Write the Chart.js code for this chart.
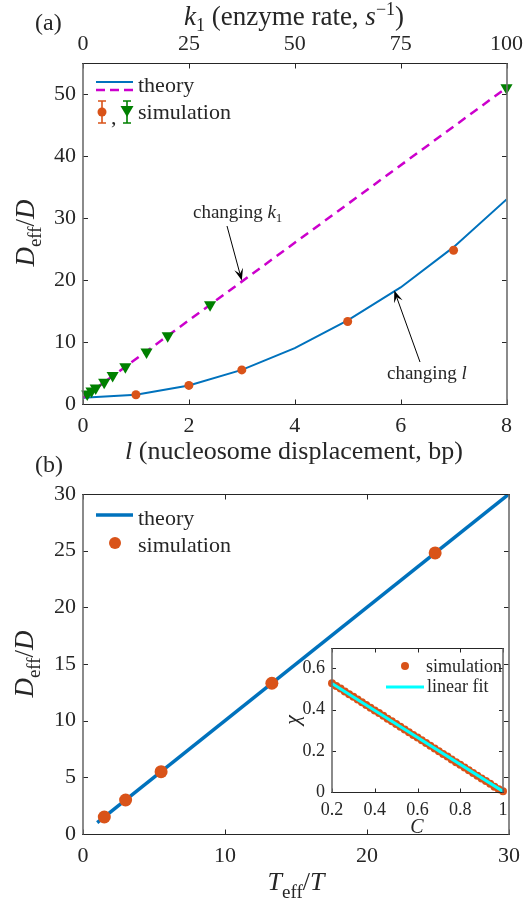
<!DOCTYPE html>
<html>
<head>
<meta charset="utf-8">
<script src="https://cdn.jsdelivr.net/npm/chart.js@4.4.1/dist/chart.umd.min.js"></script>
<style>
body{margin:0;background:#fff;width:529px;height:902px;position:relative;overflow:hidden}
canvas{position:absolute}
</style>
</head>
<body>
<canvas id="chartA" width="529" height="470" style="left:0;top:0"></canvas>
<canvas id="chartB" width="529" height="452" style="left:0;top:450px"></canvas>
<canvas id="inset" width="249" height="210" style="left:280px;top:630px"></canvas>
<script>
// panel (a): changing l (bottom axis) and changing k1 (top axis)
const lVals = [0, 1, 2, 3, 4, 5, 6, 7, 8];
const theoryL = [1, 1.5, 3, 5.5, 9, 13.5, 18.8, 25.3, 33];
const simL = [1, 2, 3, 5, 7];
const simLD = [1.5, 3, 5.5, 13.3, 24.8];
const k1Line = [0, 100];
const theoryK1 = [1, 51];
const simK1 = [1, 2, 3, 5, 7, 10, 15, 20, 30, 100];
const simK1D = [1.6, 2.1, 2.6, 3.5, 4.6, 6, 8.4, 11, 16, 51];

// panel (b)
const tRatio = [1, 30];
const theoryB = [1, 30];
const simT = [1.5, 3, 5.5, 13.3, 24.8];
const simB = [1.5, 3, 5.5, 13.3, 24.8];

// inset
const cVals = [0.20, 0.22, 0.24, 0.26, 0.28, 0.30, 0.32, 0.34, 0.36, 0.38, 0.40,
  0.42, 0.44, 0.46, 0.48, 0.50, 0.52, 0.54, 0.56, 0.58, 0.60,
  0.62, 0.64, 0.66, 0.68, 0.70, 0.72, 0.74, 0.76, 0.78, 0.80,
  0.82, 0.84, 0.86, 0.88, 0.90, 0.92, 0.94, 0.96, 0.98, 1.00];
const chiVals = [0.528, 0.515, 0.502, 0.488, 0.475, 0.462, 0.449, 0.436, 0.422, 0.409, 0.396,
  0.383, 0.370, 0.356, 0.343, 0.330, 0.317, 0.304, 0.290, 0.277, 0.264,
  0.251, 0.238, 0.224, 0.211, 0.198, 0.185, 0.172, 0.158, 0.145, 0.132,
  0.119, 0.106, 0.092, 0.079, 0.066, 0.053, 0.040, 0.026, 0.013, 0.004];
const fitC = [0.2, 1];
const fitChi = [0.527, 0.003];

const SERIF = '"Liberation Serif", "Times New Roman", serif';
const INK = '#262626';
const BLUE = '#0072BD', ORANGE = '#D95319', GREEN = '#008000', MAGENTA = '#CC00CC', CYAN = '#00FFFF';

function font(size, style){ return (style || '') + ' ' + size + 'px ' + SERIF; }

function pts(xs, ys){ return xs.map((x, i) => ({x: x, y: ys[i]})); }

// text made of pieces: [text, font, dy]
function rich(ctx, parts, x, y, rot, align){
  ctx.save();
  ctx.translate(x, y);
  if (rot) ctx.rotate(rot);
  let w = 0;
  parts.forEach(p => { ctx.font = p[1]; w += ctx.measureText(p[0]).width; });
  let cx = align === 'left' ? 0 : -w / 2;
  ctx.fillStyle = INK;
  ctx.textBaseline = 'alphabetic';
  ctx.textAlign = 'left';
  parts.forEach(p => {
    ctx.font = p[1];
    ctx.fillText(p[0], cx, p[2] || 0);
    cx += ctx.measureText(p[0]).width;
  });
  ctx.restore();
}

function arrow(ctx, x0, y0, x1, y1){
  const a = Math.atan2(y1 - y0, x1 - x0), L = 12, W = 4.5;
  const c = Math.cos(a), s = Math.sin(a);
  ctx.save();
  ctx.strokeStyle = '#000'; ctx.fillStyle = '#000'; ctx.lineWidth = 1;
  ctx.beginPath(); ctx.moveTo(x0, y0); ctx.lineTo(x1 - c * L * 0.6, y1 - s * L * 0.6); ctx.stroke();
  ctx.beginPath();
  ctx.moveTo(x1, y1);
  ctx.lineTo(x1 - L * c + W * s, y1 - L * s - W * c);
  ctx.lineTo(x1 - 0.6 * L * c, y1 - 0.6 * L * s);
  ctx.lineTo(x1 - L * c - W * s, y1 - L * s + W * c);
  ctx.closePath(); ctx.fill();
  ctx.restore();
}

// box round the plot with inward ticks, like matlab
const frame = {
  id: 'frame',
  beforeDraw(chart, args, o){
    if (!o.fill) return;
    const {ctx, chartArea: a} = chart;
    ctx.save(); ctx.fillStyle = '#fff';
    ctx.fillRect(a.left, a.top, a.right - a.left, a.bottom - a.top);
    ctx.restore();
  },
  afterDatasetsDraw(chart, args, o){
    const {ctx, chartArea: a} = chart;
    const L = Math.round(a.left), R = Math.round(a.right), T = Math.round(a.top) + 0.5, B = Math.round(a.bottom) + 0.5;
    ctx.save();
    ctx.strokeStyle = INK; ctx.lineWidth = 1;
    ctx.beginPath();
    o.sides.forEach(([id, side]) => {
      const sc = chart.scales[id];
      sc.ticks.forEach(t => {
        const p = Math.round(sc.getPixelForValue(t.value)) + 0.5;
        if (side === 'bottom'){ ctx.moveTo(p, B); ctx.lineTo(p, B - o.len); }
        if (side === 'top'){ ctx.moveTo(p, T); ctx.lineTo(p, T + o.len); }
        if (side === 'left'){ ctx.moveTo(L, p); ctx.lineTo(L + o.len, p); }
        if (side === 'right'){ ctx.moveTo(R, p); ctx.lineTo(R - o.len, p); }
      });
    });
    ctx.stroke();
    ctx.beginPath();
    ctx.moveTo(L - 1, T); ctx.lineTo(R + 1, T);
    ctx.moveTo(L - 1, B); ctx.lineTo(R + 1, B);
    ctx.stroke();
    ctx.strokeStyle = '#6e6e6e'; ctx.lineWidth = 1.6;
    ctx.beginPath();
    ctx.moveTo(L, T); ctx.lineTo(L, B);
    ctx.moveTo(R, T); ctx.lineTo(R, B);
    ctx.stroke();
    ctx.restore();
  }
};

function axisOpts(min, max, step, pad, size, pos, fit){
  return {
    type: 'linear', position: pos, min: min, max: max,
    grid: {display: false, drawTicks: false}, border: {display: false},
    ticks: {stepSize: step, padding: pad, includeBounds: false, color: INK,
      font: {family: SERIF, size: size},
      callback: v => String(+v.toFixed(2))},
    afterFit: fit
  };
}

const base = {
  responsive: false, animation: false, events: [],
  plugins: {legend: {display: false}, tooltip: {enabled: false}}
};

// panel (a)
const decoA = {
  id: 'decoA',
  afterDraw(chart){
    const ctx = chart.ctx, x = chart.scales.x, x2 = chart.scales.x2, y = chart.scales.y;
    rich(ctx, [['(a)', font(24)]], 35, 30, 0, 'left');
    rich(ctx, [['k', font(27, 'italic')], ['1', font(18), 6], [' (enzyme rate, ', font(27)],
      ['s', font(27, 'italic')], ['\u22121', font(18), -10], [')', font(27)]], 294, 25);
    rich(ctx, [['l', font(26, 'italic')], [' (nucleosome displacement, bp)', font(26)]], 294, 459);
    rich(ctx, [['D', font(27, 'italic')], ['eff', font(19), 7], ['/', font(27)], ['D', font(27, 'italic')]],
      34, 233, -Math.PI / 2);

    // legend
    ctx.save();
    ctx.lineWidth = 2; ctx.strokeStyle = BLUE;
    ctx.beginPath(); ctx.moveTo(96, 82); ctx.lineTo(133, 82); ctx.stroke();
    ctx.lineWidth = 2.5; ctx.strokeStyle = MAGENTA; ctx.setLineDash([9, 5]);
    ctx.beginPath(); ctx.moveTo(96, 90); ctx.lineTo(133, 90); ctx.stroke();
    ctx.setLineDash([]);
    ctx.lineWidth = 1.6;
    [[102, ORANGE], [127, GREEN]].forEach(([cx, col]) => {
      ctx.strokeStyle = col;
      ctx.beginPath();
      ctx.moveTo(cx, 101); ctx.lineTo(cx, 123);
      ctx.moveTo(cx - 4, 101); ctx.lineTo(cx + 4, 101);
      ctx.moveTo(cx - 4, 123); ctx.lineTo(cx + 4, 123);
      ctx.stroke();
    });
    ctx.fillStyle = ORANGE;
    ctx.beginPath(); ctx.arc(102, 112, 4.5, 0, Math.PI * 2); ctx.fill();
    ctx.fillStyle = GREEN;
    ctx.beginPath(); ctx.moveTo(120.5, 106); ctx.lineTo(133.5, 106); ctx.lineTo(127, 117); ctx.closePath(); ctx.fill();
    ctx.restore();
    rich(ctx, [['theory', font(22)]], 138, 92, 0, 'left');
    rich(ctx, [[',', font(22)]], 111, 124, 0, 'left');
    rich(ctx, [['simulation', font(22)]], 138, 119, 0, 'left');

    // annotations
    rich(ctx, [['changing ', font(19)], ['k', font(19, 'italic')], ['1', font(13), 4]], 193, 218, 0, 'left');
    arrow(ctx, 227, 226, x2.getPixelForValue(37.5), y.getPixelForValue(19.9));
    rich(ctx, [['changing ', font(19)], ['l', font(19, 'italic')]], 387, 379, 0, 'left');
    arrow(ctx, 420, 362, x.getPixelForValue(5.88), y.getPixelForValue(18.3));
  }
};

new Chart(document.getElementById('chartA'), {
  type: 'scatter',
  data: {datasets: [
    {data: pts(simK1, simK1D), xAxisID: 'x2', pointStyle: 'triangle', pointRotation: 180, pointRadius: 7,
      pointBackgroundColor: GREEN, pointBorderWidth: 0, clip: false, order: 0},
    {data: pts(simL, simLD), xAxisID: 'x', pointRadius: 4.5, pointBackgroundColor: ORANGE,
      pointBorderWidth: 0, clip: false, order: 1},
    {data: pts(k1Line, theoryK1), xAxisID: 'x2', showLine: true, borderColor: MAGENTA, borderDash: [9, 6],
      borderWidth: 2.5, pointRadius: 0, order: 2},
    {data: pts(lVals, theoryL), xAxisID: 'x', showLine: true, borderColor: BLUE, borderWidth: 2,
      pointRadius: 0, order: 3}
  ]},
  options: Object.assign({}, base, {
    layout: {padding: {right: 19}},
    scales: {
      x: axisOpts(0, 8, 2, 9, 22, 'bottom', s => { s.height = 66; }),
      x2: axisOpts(0, 100, 25, 6, 22, 'top', s => { s.height = 63; }),
      y: axisOpts(0, 55, 10, 7, 22, 'left', s => { s.width = 83; })
    },
    plugins: Object.assign({}, base.plugins, {
      frame: {len: 5, sides: [['x', 'bottom'], ['x2', 'top'], ['y', 'left'], ['y', 'right']]}
    })
  }),
  plugins: [frame, decoA]
});

// panel (b)
const decoB = {
  id: 'decoB',
  afterDraw(chart){
    const ctx = chart.ctx;
    rich(ctx, [['(b)', font(24)]], 35, 22, 0, 'left');
    rich(ctx, [['T', font(26, 'italic')], ['eff', font(19), 8], ['/', font(26)], ['T', font(26, 'italic')]], 296, 440);
    rich(ctx, [['D', font(27, 'italic')], ['eff', font(19), 7], ['/', font(27)], ['D', font(27, 'italic')]],
      33, 214, -Math.PI / 2);
    ctx.save();
    ctx.lineWidth = 3.5; ctx.strokeStyle = BLUE;
    ctx.beginPath(); ctx.moveTo(96, 65); ctx.lineTo(133, 65); ctx.stroke();
    ctx.fillStyle = ORANGE;
    ctx.beginPath(); ctx.arc(115, 93, 6, 0, Math.PI * 2); ctx.fill();
    ctx.restore();
    rich(ctx, [['theory', font(22)]], 138, 75, 0, 'left');
    rich(ctx, [['simulation', font(22)]], 138, 102, 0, 'left');
  }
};

new Chart(document.getElementById('chartB'), {
  type: 'scatter',
  data: {datasets: [
    {data: pts(simT, simB), pointRadius: 6.5, pointBackgroundColor: ORANGE, pointBorderWidth: 0, clip: false, order: 0},
    {data: pts(tRatio, theoryB), showLine: true, borderColor: BLUE, borderWidth: 3.5, pointRadius: 0, order: 1}
  ]},
  options: Object.assign({}, base, {
    layout: {padding: {top: 44, right: 18}},
    scales: {
      x: axisOpts(0, 30, 10, 9, 22, 'bottom', s => { s.height = 68; }),
      y: axisOpts(0, 30, 5, 7, 22, 'left', s => { s.width = 83; })
    },
    plugins: Object.assign({}, base.plugins, {
      frame: {len: 5, sides: [['x', 'bottom'], ['x', 'top'], ['y', 'left'], ['y', 'right']]}
    })
  }),
  plugins: [frame, decoB]
});

// inset (canvas starts at page x 280, y 630)
const decoI = {
  id: 'decoI',
  afterDraw(chart){
    const ctx = chart.ctx;
    rich(ctx, [['\u03c7', font(22, 'italic')]], 19, 90, -Math.PI / 2);
    rich(ctx, [['C', font(20, 'italic')]], 137, 203);
    ctx.save();
    ctx.fillStyle = ORANGE;
    ctx.beginPath(); ctx.arc(125, 36, 4, 0, Math.PI * 2); ctx.fill();
    ctx.lineWidth = 3; ctx.strokeStyle = CYAN;
    ctx.beginPath(); ctx.moveTo(106, 57); ctx.lineTo(144, 57); ctx.stroke();
    ctx.restore();
    rich(ctx, [['simulation', font(18)]], 146, 42, 0, 'left');
    rich(ctx, [['linear fit', font(18)]], 147, 62, 0, 'left');
  }
};

new Chart(document.getElementById('inset'), {
  type: 'scatter',
  data: {datasets: [
    {data: pts(fitC, fitChi), showLine: true, borderColor: CYAN, borderWidth: 3, pointRadius: 0, clip: false, order: 0},
    {data: pts(cVals, chiVals), pointRadius: 4, pointBackgroundColor: ORANGE, pointBorderWidth: 0, clip: false, order: 1}
  ]},
  options: Object.assign({}, base, {
    layout: {padding: {top: 17, right: 26}},
    scales: {
      x: axisOpts(0.2, 1, 0.2, 7, 18, 'bottom', s => { s.height = 48; }),
      y: axisOpts(0, 0.7, 0.2, 7, 18, 'left', s => { s.width = 52; })
    },
    plugins: Object.assign({}, base.plugins, {
      frame: {len: 4, fill: true, sides: [['x', 'bottom'], ['x', 'top'], ['y', 'left'], ['y', 'right']]}
    })
  }),
  plugins: [frame, decoI]
});
</script>
</body>
</html>
